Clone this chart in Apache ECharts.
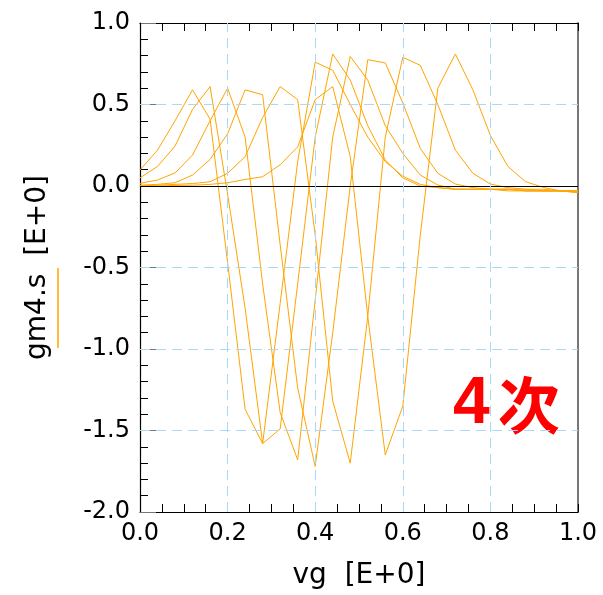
<!DOCTYPE html>
<html>
<head>
<meta charset="utf-8">
<script src="https://cdn.jsdelivr.net/npm/echarts@6/dist/echarts.min.js"></script>
<style>
  html, body { margin: 0; padding: 0; background: #fff; }
  #chart { width: 603px; height: 595px; }
</style>
</head>
<body>
<div id="chart"></div>
<script>
// Gate voltage sweep (V), sampled every 0.04 V
const vg = [0.00, 0.04, 0.08, 0.12, 0.16, 0.20, 0.24, 0.28, 0.32, 0.36, 0.40, 0.44, 0.48,
            0.52, 0.56, 0.60, 0.64, 0.68, 0.72, 0.76, 0.80, 0.84, 0.88, 0.92, 0.96, 1.00];

// Fourth-order transconductance gm4 for six bias conditions
const gm4Curve1 = [0.098, 0.22, 0.40, 0.59, 0.41, -0.47, -1.37, -1.58, -0.72, 0.15, 0.76, 0.71, 0.50,
                   0.30, 0.15, 0.06, 0.01, -0.01, -0.02, -0.02, -0.02, -0.02, -0.03, -0.03, -0.03, -0.04];
const gm4Curve2 = [0.05, 0.12, 0.245, 0.47, 0.61, -0.05, -0.75, -1.58, -1.49, -0.60, 0.30, 0.81, 0.65,
                   0.37, 0.16, 0.05, 0.00, -0.01, -0.02, -0.02, -0.02, -0.03, -0.03, -0.03, -0.03, -0.03];
const gm4Curve3 = [0.016, 0.037, 0.08, 0.19, 0.40, 0.60, 0.30, -0.60, -1.39, -1.68, -0.70, 0.30, 0.795,
                   0.65, 0.37, 0.20, 0.067, 0.006, -0.02, -0.02, -0.02, -0.02, -0.03, -0.03, -0.03, -0.03];
const gm4Curve4 = [0.005, 0.01, 0.02, 0.067, 0.163, 0.32, 0.59, 0.56, -0.36, -1.24, -1.72, -0.90, 0.00,
                   0.775, 0.755, 0.51, 0.23, 0.078, 0.012, -0.01, -0.02, -0.02, -0.02, -0.03, -0.03, -0.03];
const gm4Curve5 = [0.00, 0.005, 0.01, 0.015, 0.026, 0.078, 0.18, 0.42, 0.61, 0.53, -0.30, -1.32, -1.70,
                   -0.80, 0.30, 0.79, 0.74, 0.50, 0.22, 0.078, 0.012, -0.01, -0.02, -0.02, -0.03, -0.03];
const gm4Curve6 = [0.00, 0.00, 0.003, 0.005, 0.01, 0.02, 0.04, 0.057, 0.13, 0.24, 0.53, 0.61, 0.18,
                   -0.80, -1.65, -1.35, -0.30, 0.60, 0.81, 0.59, 0.31, 0.12, 0.027, -0.008, -0.03, -0.04];

const curves = [gm4Curve1, gm4Curve2, gm4Curve3, gm4Curve4, gm4Curve5, gm4Curve6];

// Axis tick labels
const xTicks = [0.0, 0.2, 0.4, 0.6, 0.8, 1.0];
const yTicks = [-2.0, -1.5, -1.0, -0.5, 0.0, 0.5, 1.0];

const FONT = 'DejaVu Sans';
const GRID_BLUE = '#a9d9f5';

const chart = echarts.init(document.getElementById('chart'), null, { renderer: 'canvas' });

const series = curves.map((ys, i) => ({
  type: 'line',
  name: 'gm4.s',
  data: vg.map((x, j) => [x, ys[j]]),
  showSymbol: false,
  symbol: 'none',
  lineStyle: { color: '#FFA500', width: 1 },
  itemStyle: { color: '#FFA500' },
  silent: true,
  animation: false,
  z: 3
}));

// zero reference line and dashed grid lines
series.push({
  type: 'line',
  data: [],
  silent: true,
  animation: false,
  markLine: {
    silent: true,
    symbol: 'none',
    label: { show: false },
    animation: false,
    data: [
      { yAxis: 0, lineStyle: { color: '#000', width: 1.2, type: 'solid' } },
      ...yTicks.filter(v => v !== 0 && v !== yTicks[0] && v !== yTicks[yTicks.length - 1])
        .map(v => ({ yAxis: v, lineStyle: { color: GRID_BLUE, width: 1, type: [10, 6] } })),
      ...xTicks.filter(v => v !== xTicks[0] && v !== xTicks[xTicks.length - 1])
        .map(v => ({ xAxis: v, lineStyle: { color: GRID_BLUE, width: 1, type: [10, 6] } }))
    ]
  },
  z: 2
});

const option = {
  backgroundColor: '#fff',
  animation: false,
  grid: { left: 140, right: 25, top: 23, bottom: 82, containLabel: false },
  xAxis: [
    {
      type: 'value', min: xTicks[0], max: xTicks[xTicks.length - 1], interval: 0.2,
      position: 'bottom',
      name: 'vg  [E+0]', nameLocation: 'middle', nameGap: 50,
      nameTextStyle: { fontFamily: FONT, fontSize: 28, color: '#000' },
      axisLine: { show: true, onZero: false, lineStyle: { color: '#000', width: 1.2 } },
      axisTick: { show: true, inside: true, length: 8, lineStyle: { color: '#000' } },
      minorTick: { show: true, splitNumber: 4, length: 8, lineStyle: { color: '#000' } },
      axisLabel: { fontFamily: FONT, fontSize: 24, color: '#000', margin: 10,
                   formatter: v => v.toFixed(1) },
      splitLine: { show: false }
    },
    {
      type: 'value', min: xTicks[0], max: xTicks[xTicks.length - 1], interval: 0.2,
      position: 'top',
      axisLine: { show: true, onZero: false, lineStyle: { color: '#000', width: 1.2 } },
      axisTick: { show: true, inside: true, length: 8, lineStyle: { color: '#000' } },
      minorTick: { show: true, splitNumber: 4, length: 8, lineStyle: { color: '#000' } },
      axisLabel: { show: false },
      splitLine: { show: false }
    }
  ],
  yAxis: [
    {
      type: 'value', min: yTicks[0], max: yTicks[yTicks.length - 1], interval: 0.5,
      position: 'left',
      name: 'gm4.s  [E+0]', nameLocation: 'middle', nameGap: 88, nameRotate: 90,
      nameTextStyle: { fontFamily: FONT, fontSize: 28, color: '#000' },
      axisLine: { show: true, onZero: false, lineStyle: { color: '#000', width: 1.2 } },
      axisTick: { show: true, inside: true, length: 16, lineStyle: { color: '#777' } },
      minorTick: { show: true, splitNumber: 5, length: 8, lineStyle: { color: '#000' } },
      axisLabel: { fontFamily: FONT, fontSize: 24, color: '#000', margin: 10,
                   formatter: v => v.toFixed(1) },
      splitLine: { show: false }
    },
    {
      type: 'value', min: yTicks[0], max: yTicks[yTicks.length - 1], interval: 0.5,
      position: 'right',
      axisLine: { show: true, onZero: false, lineStyle: { color: '#777', width: 2 } },
      axisTick: { show: false },
      axisLabel: { show: false },
      splitLine: { show: false }
    }
  ],
  series: series,
  graphic: [
    {
      type: 'line',
      shape: { x1: 58, y1: 268, x2: 58, y2: 348 },
      style: { stroke: '#FFA500', lineWidth: 1.5 },
      silent: true
    },
    {
      type: 'text',
      left: 453, top: 372,
      style: {
        text: '{d|4}{k|次}',
        rich: {
          d: { fontFamily: 'Liberation Sans', fontWeight: 'bold', fontSize: 66, fill: '#ff0000', color: '#ff0000' },
          k: { fontFamily: '"Noto Sans CJK JP"', fontWeight: 'bold', fontSize: 62, fill: '#ff0000', color: '#ff0000', padding: [0, 0, 0, 8] }
        }
      },
      silent: true
    }
  ]
};

chart.setOption(option);
</script>
</body>
</html>
